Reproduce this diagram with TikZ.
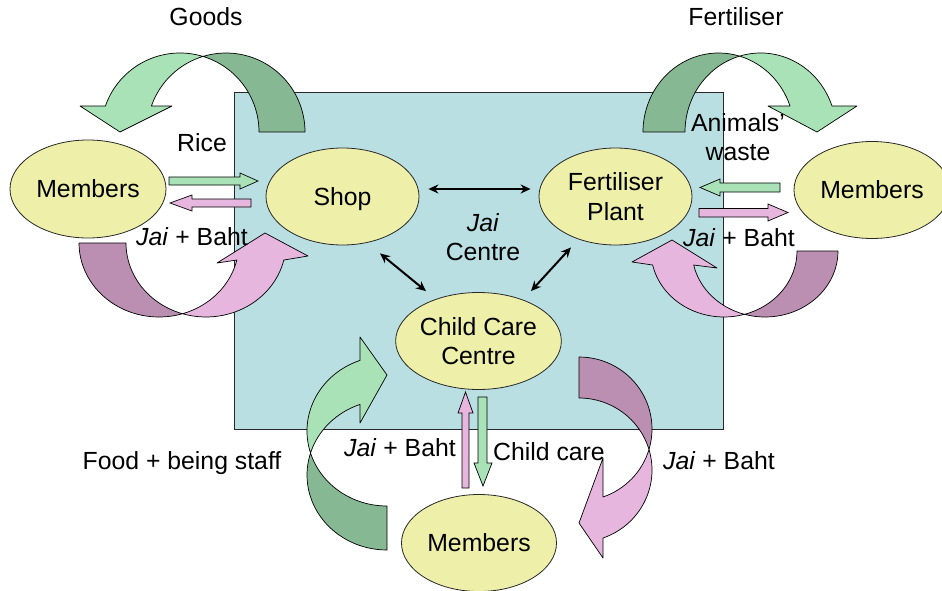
\documentclass[tikz,border=0pt]{standalone}
\usepackage{fontspec}
\setmainfont{Liberation Sans}
\usetikzlibrary{arrows.meta,shapes.geometric}
\definecolor{bgblue}{RGB}{185,223,227}
\definecolor{ellfill}{RGB}{238,240,170}
\definecolor{lgreen}{RGB}{168,226,182}
\definecolor{dgreen}{RGB}{134,184,147}
\definecolor{lpink}{RGB}{230,182,222}
\definecolor{dpink}{RGB}{187,143,178}
\definecolor{edge}{RGB}{40,40,40}
\begin{document}
\begin{tikzpicture}[x=1pt,y=1pt,
  font=\fontsize{24.8}{29.5}\selectfont,
  ell/.style={ellipse, draw=edge, line width=0.8pt, fill=ellfill, minimum width=153pt, minimum height=97pt, inner sep=0pt, align=center, text depth=0pt},
  lbl/.style={anchor=base, inner sep=0pt},
  mlbl/.style={align=center, inner sep=0pt},
  band/.style={draw=black, line width=0.7pt, line join=round},
  blk/.style={draw=black, line width=0.7pt, line join=miter},
  dbl/.style={{Stealth[length=10pt,width=9pt]}-{Stealth[length=10pt,width=9pt]}, line width=2pt}
]
\clip (0,0) rectangle (942,-591);
\fill[white] (0,0) rectangle (942,-591);
% Jai Centre background
\filldraw[fill=bgblue, draw=edge, line width=0.8pt] (234,-92.5) rectangle (723,-429);

% ---- curved arrow: Goods (top left)
\filldraw[band,fill=dgreen] ([shift={(106.9:79pt and 79pt)}]226,-132) arc[start angle=106.9,end angle=0,x radius=79pt,y radius=79pt] -- ([shift={(0:79pt and 79pt)}]180,-132) arc[start angle=0,end angle=73.1,x radius=79pt,y radius=79pt] -- cycle;
\filldraw[band,fill=lgreen] ([shift={(73.1:79pt and 79pt)}]180,-132) arc[start angle=73.1,end angle=160.8,x radius=79pt,y radius=79pt] -- (80,-106) -- (120,-132) -- (172,-106) -- ([shift={(160.8:79pt and 79pt)}]226,-132) arc[start angle=160.8,end angle=106.9,x radius=79pt,y radius=79pt] -- cycle;

% ---- curved arrow: Fertiliser (top right)
\filldraw[band,fill=dgreen] ([shift={(73.87:75.6pt and 79pt)}]718.6,-132) arc[start angle=73.87,end angle=180,x radius=75.6pt,y radius=79pt] -- ([shift={(180:75.6pt and 79pt)}]760.6,-132) arc[start angle=180,end angle=106.13,x radius=75.6pt,y radius=79pt] -- cycle;
\filldraw[band,fill=lgreen] ([shift={(106.13:75.6pt and 79pt)}]760.6,-132) arc[start angle=106.13,end angle=19.2,x radius=75.6pt,y radius=79pt] -- (857,-106) -- (817,-132) -- (768,-106) -- ([shift={(19.2:75.6pt and 79pt)}]718.6,-132) arc[start angle=19.2,end angle=73.87,x radius=75.6pt,y radius=79pt] -- cycle;

% ---- curved arrow: left Jai + Baht
\filldraw[band,fill=dpink] ([shift={(180:80pt and 74pt)}]159,-243) arc[start angle=180,end angle=287.1,x radius=80pt,y radius=74pt] -- ([shift={(252.9:80pt and 74pt)}]206,-243) arc[start angle=252.9,end angle=180,x radius=80pt,y radius=74pt] -- cycle;
\filldraw[band,fill=lpink] ([shift={(252.9:80pt and 74pt)}]206,-243) arc[start angle=252.9,end angle=346.7,x radius=80pt,y radius=74pt] -- (308,-256) -- (265,-233) -- (217,-263) -- ([shift={(346.7:80pt and 74pt)}]159,-243) arc[start angle=346.7,end angle=287.1,x radius=80pt,y radius=74pt] -- cycle;

% ---- curved arrow: right Jai + Baht
\filldraw[band,fill=dpink] ([shift={(0:73pt and 66pt)}]765,-251) arc[start angle=360,end angle=253.7,x radius=73pt,y radius=66pt] -- ([shift={(286.3:73pt and 66pt)}]724,-251) arc[start angle=286.3,end angle=360,x radius=73pt,y radius=66pt] -- cycle;
\filldraw[band,fill=lpink] ([shift={(286.3:73pt and 66pt)}]724,-251) arc[start angle=286.3,end angle=192.25,x radius=73pt,y radius=66pt] -- (632,-262) -- (672,-240) -- (717,-268) -- ([shift={(192.25:73pt and 66pt)}]765,-251) arc[start angle=192.25,end angle=253.7,x radius=73pt,y radius=66pt] -- cycle;

% ---- curved arrow: Food + being staff
\filldraw[band,fill=dgreen] ([shift={(270:80pt and 75pt)}]387,-475) arc[start angle=270,end angle=162.94,x radius=80pt,y radius=75pt] -- ([shift={(197.06:80pt and 75pt)}]387,-431) arc[start angle=197.06,end angle=270,x radius=80pt,y radius=75pt] -- cycle;
\filldraw[band,fill=lgreen] ([shift={(197.06:80pt and 75pt)}]387,-431) arc[start angle=197.06,end angle=109.7,x radius=80pt,y radius=75pt] -- (360,-337) -- (387,-375) -- (360,-423) -- ([shift={(109.7:80pt and 75pt)}]387,-475) arc[start angle=109.7,end angle=162.94,x radius=80pt,y radius=75pt] -- cycle;

% ---- curved arrow: bottom right Jai + Baht
\filldraw[band,fill=dpink] ([shift={(90:73pt and 72pt)}]579,-429) arc[start angle=90,end angle=-16.54,x radius=73pt,y radius=72pt] -- ([shift={(16.54:73pt and 72pt)}]579,-470) arc[start angle=16.54,end angle=90,x radius=73pt,y radius=72pt] -- cycle;
\filldraw[band,fill=lpink] ([shift={(16.54:73pt and 72pt)}]579,-470) arc[start angle=16.54,end angle=-70.8,x radius=73pt,y radius=72pt] -- (603,-558) -- (579,-523) -- (603,-458) -- ([shift={(-70.8:73pt and 72pt)}]579,-429) arc[start angle=-70.8,end angle=-16.54,x radius=73pt,y radius=72pt] -- cycle;

% ---- straight block arrows
\filldraw[blk,fill=lgreen] (169,-177) -- (240,-177) -- (240,-173) -- (258,-181) -- (240,-189) -- (240,-185) -- (169,-185) -- cycle;
\filldraw[blk,fill=lpink] (251,-199) -- (192,-199) -- (192,-195) -- (170,-203) -- (192,-211) -- (192,-207) -- (251,-207) -- cycle;
\filldraw[blk,fill=lgreen] (780,-183) -- (720,-183) -- (720,-179) -- (700,-187.5) -- (720,-196) -- (720,-192) -- (780,-192) -- cycle;
\filldraw[blk,fill=lpink] (699,-208.5) -- (768,-208.5) -- (768,-204) -- (788,-212.5) -- (768,-221) -- (768,-217) -- (699,-217) -- cycle;
\filldraw[blk,fill=lpink] (462,-488) -- (462,-413) -- (458,-413) -- (465.5,-392) -- (473,-413) -- (469,-413) -- (469,-488) -- cycle;
\filldraw[blk,fill=lgreen] (478,-397) -- (478,-463) -- (474,-463) -- (483,-486) -- (492,-463) -- (487,-463) -- (487,-397) -- cycle;

% ---- ellipses
\node[ell] (shop) at (342.5,-196.5) {Shop};
\node[ell] (fert) at (615.5,-196.5) {Fertiliser\\Plant};
\node[ell] (child) at (478.5,-341) {Child Care\\Centre};
\node[ell, minimum width=156pt, minimum height=98pt] (memL) at (88,-189) {Members};
\node[ell, minimum width=156pt, minimum height=97pt] (memR) at (872,-190) {Members};
\node[ell, minimum width=155pt, minimum height=97pt] (memB) at (479,-543) {Members};

% ---- black double arrows
\draw[dbl] ([shift={(9pt,7.5pt)}]shop.east) -- ([shift={(-8pt,7.5pt)}]fert.west);
\draw[dbl] ([shift={(37.5pt,-8pt)}]shop.south) -- ([shift={(-52.5pt,1pt)}]child.north);
\draw[dbl] ([shift={(-44.5pt,-2pt)}]fert.south) -- ([shift={(52.5pt,1pt)}]child.north);

% ---- labels
\node[lbl] (goods) at (206,-26) {Goods};
\node[lbl] (fertlbl) at (736,-26) {Fertiliser};
\node[lbl] (rice) at (202,-151) {Rice};
\node[mlbl] (waste) at (738,-137) {Animals'\\waste};
\node[lbl] (jbL) at (192,-245) {\textit{Jai} + Baht};
\node[lbl] (jbR) at (739,-246) {\textit{Jai} + Baht};
\node[mlbl] (centre) at (483,-237) {\textit{Jai}\\Centre};
\node[lbl] (food) at (182,-469) {Food + being staff};
\node[lbl] (jbB) at (400,-456) {\textit{Jai} + Baht};
\node[lbl] (care) at (549,-460) {Child care};
\node[lbl] (jbBR) at (719,-469) {\textit{Jai} + Baht};
\end{tikzpicture}
\end{document}
